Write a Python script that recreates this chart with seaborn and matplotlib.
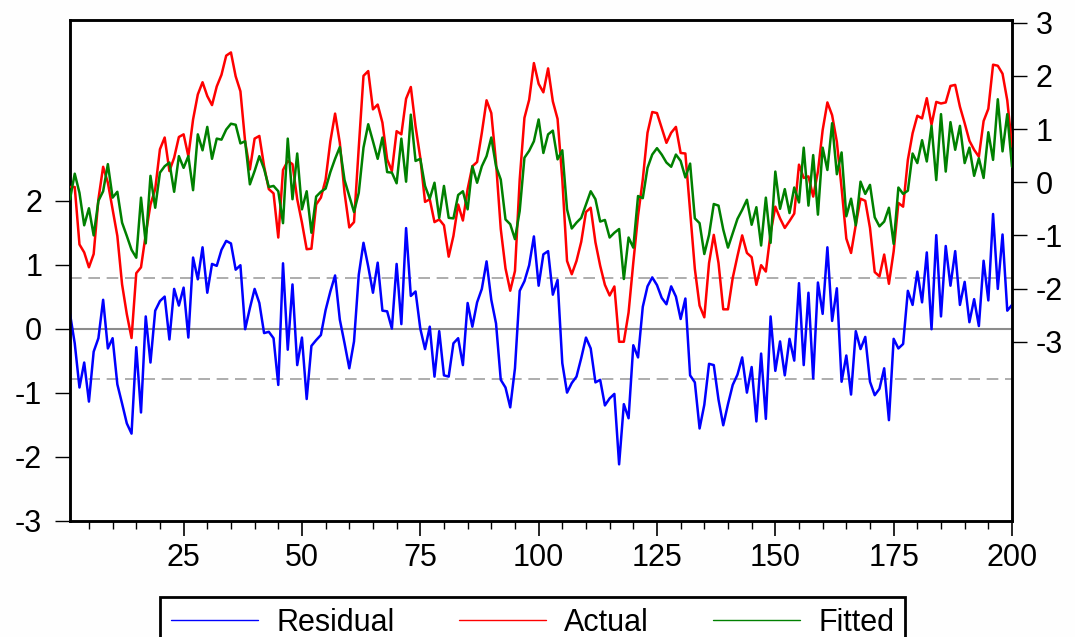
import numpy as np
import pandas as pd
import matplotlib
matplotlib.use("Agg")
import matplotlib.pyplot as plt
from matplotlib.lines import Line2D
from matplotlib.ticker import MultipleLocator, FixedLocator
import seaborn as sns

# ---------------- data ----------------
residual = [
    0.23, -0.23, -0.92, -0.53, -1.14, -0.36, -0.15, 0.45, -0.31, -0.15, -0.87, -1.17, -1.48, -1.64, -0.29,
    -1.31, 0.19, -0.53, 0.28, 0.43, 0.50, -0.17, 0.62, 0.36, 0.64, -0.14, 1.11, 0.77, 1.27, 0.56, 1.01, 0.98, 1.23,
    1.37, 1.33, 0.92, 0.99, -0.01, 0.32, 0.62, 0.40, -0.07, -0.05, -0.15, -0.88, 1.02, -0.33, 0.69, -0.57, -0.14,
    -1.10, -0.27, -0.18, -0.10, 0.29, 0.58, 0.83, 0.14, -0.23, -0.62, -0.20, 0.84, 1.34, 0.97, 0.56, 1.03, 0.28,
    0.27, 0.00, 1.01, 0.07, 1.57, 0.51, 0.58, 0.00, -0.32, 0.03, -0.75, -0.04, -0.73, -0.75, -0.23, -0.15, -0.57,
    0.40, 0.03, 0.41, 0.62, 1.05, 0.45, 0.08, -0.80, -0.92, -1.23, -0.62, 0.59, 0.74, 0.99, 1.44, 0.67, 1.16,
    1.21, 0.53, 0.76, -0.54, -1.00, -0.85, -0.75, -0.46, -0.14, -0.31, -0.84, -0.80, -1.20, -1.09, -1.02, -2.12,
    -1.18, -1.40, -0.26, -0.45, 0.34, 0.66, 0.80, 0.68, 0.48, 0.38, 0.66, 0.50, 0.15, 0.47, -0.73, -0.84, -1.56, -1.19,
    -0.55, -0.57, -1.11, -1.51, -1.18, -0.88, -0.72, -0.45, -1.00, -0.60, -1.45, -0.39, -1.41, 0.19, -0.66, -0.20,
    -0.73, -0.16, -0.50, 0.71, -0.57, 0.56, -0.78, 0.72, 0.23, 1.27, 0.12, 0.63, -0.83, -0.42, -1.03, -0.04, -0.32, -0.13,
    -0.83, -1.04, -0.94, -0.62, -1.43, -0.16, -0.31, -0.24, 0.59, 0.37, 0.89, 0.41, 1.19, -0.01, 1.46, 0.19,
    1.29, 0.67, 1.21, 0.37, 0.73, 0.10, 0.46, 0.04, 1.06, 0.44, 1.79, 0.62, 1.47, 0.28, 0.37,
]

actual = [
    -0.09, -0.09, -1.17, -1.32, -1.60, -1.35, -0.32, 0.29, -0.01, -0.51, -1.01, -1.92, -2.48, -2.93, -1.71,
    -1.60, -0.98, -0.42, -0.13, 0.62, 0.84, 0.21, 0.46, 0.85, 0.90, 0.49, 1.18, 1.65, 1.88, 1.62, 1.45, 1.80, 2.02,
    2.38, 2.44, 1.99, 1.71, 0.76, 0.24, 0.82, 0.87, 0.30, -0.13, -0.21, -1.04, 0.23, 0.40, 0.34, -0.32, -0.76,
    -1.26, -1.25, -0.42, -0.29, 0.05, 0.77, 1.29, 0.74, -0.20, -0.85, -0.75, 0.65, 2.00, 2.09, 1.37, 1.46, 1.12,
    0.43, 0.21, 0.96, 0.90, 1.57, 1.79, 1.05, 0.46, -0.37, -0.32, -0.75, -0.70, -0.81, -1.40, -1.01, -0.42, -0.72,
    -0.13, 0.30, 0.38, 0.93, 1.54, 1.30, 0.37, -0.88, -1.62, -2.04, -1.67, 0.05, 1.21, 1.55, 2.24, 1.85, 1.69,
    2.14, 1.52, 1.19, 0.05, -1.48, -1.73, -1.48, -1.12, -0.56, -0.48, -1.13, -1.57, -1.93, -2.13, -1.96, -3.00,
    -3.00, -2.45, -1.51, -0.63, 0.05, 0.93, 1.32, 1.30, 1.02, 0.74, 0.93, 1.04, 0.55, 0.54, -0.54, -1.63, -2.32, -2.54,
    -1.52, -0.99, -1.52, -2.39, -2.39, -1.80, -1.39, -1.00, -1.33, -1.41, -1.93, -1.56, -1.68, -0.96, -0.46, -0.68,
    -0.86, -0.73, -0.59, 0.33, 0.08, 0.11, -0.27, 0.20, 0.98, 1.50, 1.26, 0.76, -0.11, -1.06, -1.33, -0.80, -0.31, -0.35,
    -0.86, -1.69, -1.77, -1.36, -1.91, -1.30, -0.39, -0.46, 0.42, 0.92, 1.25, 1.20, 1.58, 1.08, 1.51, 1.48,
    1.50, 1.81, 1.83, 1.42, 1.11, 0.78, 0.61, 0.48, 1.15, 1.38, 2.21, 2.19, 2.04, 1.54, 0.67,
]

fitted = [
    -0.32, 0.16, -0.20, -0.81, -0.49, -1.00, -0.35, -0.17, 0.34, -0.29, -0.18, -0.76, -1.01, -1.27, -1.42,
    -0.29, -1.15, 0.12, -0.48, 0.18, 0.30, 0.37, -0.18, 0.49, 0.27, 0.49, -0.15, 0.90, 0.60, 1.04, 0.44, 0.82, 0.80,
    0.99, 1.10, 1.08, 0.73, 0.77, -0.04, 0.21, 0.49, 0.25, -0.09, -0.07, -0.17, -0.77, 0.82, -0.32, 0.54, -0.51,
    -0.17, -0.95, -0.27, -0.18, -0.12, 0.19, 0.44, 0.66, 0.04, -0.26, -0.56, -0.20, 0.65, 1.09, 0.77, 0.44, 0.84,
    0.19, 0.18, -0.02, 0.82, 0.01, 1.27, 0.40, 0.44, -0.07, -0.31, -0.01, -0.67, -0.07, -0.67, -0.68, -0.24, -0.17,
    -0.51, 0.30, -0.01, 0.30, 0.49, 0.84, 0.30, 0.05, -0.70, -0.79, -1.07, -0.54, 0.46, 0.59, 0.77, 1.18, 0.55,
    0.90, 0.97, 0.43, 0.60, -0.51, -0.87, -0.76, -0.67, -0.42, -0.17, -0.32, -0.74, -0.71, -1.04, -0.95, -0.88,
    -1.82, -1.04, -1.23, -0.26, -0.30, 0.27, 0.52, 0.64, 0.52, 0.37, 0.29, 0.52, 0.40, 0.09, 0.35, -0.68, -0.77, -1.35,
    -0.99, -0.41, -0.44, -0.89, -1.23, -0.96, -0.69, -0.52, -0.33, -0.80, -0.47, -1.19, -0.29, -1.14, 0.20, -0.50,
    -0.13, -0.58, -0.10, -0.38, 0.65, -0.44, 0.51, -0.61, 0.65, 0.23, 1.11, 0.15, 0.56, -0.64, -0.31, -0.81, 0.01, -0.22,
    -0.05, -0.66, -0.83, -0.74, -0.48, -1.16, -0.10, -0.22, -0.16, 0.54, 0.36, 0.79, 0.39, 1.06, 0.04, 1.28,
    0.20, 1.13, 0.61, 1.06, 0.36, 0.65, 0.12, 0.45, 0.08, 0.94, 0.42, 1.56, 0.58, 1.28, 0.29,
]

obs = list(range(1, len(residual) + 1))
resid_se = 0.787                      # +/- 1 S.E. band of the residual
series_labels = ["Residual", "Actual", "Fitted"]
x_major_ticks = [25, 50, 75, 100, 125, 150, 175, 200]
left_ticks = [-3, -2, -1, 0, 1, 2]
right_ticks = [-3, -2, -1, 0, 1, 2, 3]

df = pd.DataFrame({"obs": obs, "Residual": residual, "Actual": actual, "Fitted": fitted})

# ---------------- style ----------------
sns.set_style("white")
plt.rcParams["font.family"] = ["Liberation Sans", "DejaVu Sans"]
plt.rcParams["text.color"] = "black"
FS = 22

BLUE, RED, GREEN = "#0000ff", "#ff0000", "#008000"

fig = plt.figure(figsize=(10.75, 6.37), dpi=100, facecolor="#fefefe")
W, H = 1075, 637
ax1 = fig.add_axes([70 / W, 1 - 521 / H, (1012 - 70) / W, (521 - 20) / H])
ax1.set_facecolor("white")
ax2 = ax1.twinx()

# reference lines for residuals
ax1.axhline(0, color="#8c8c8c", lw=1.5, zorder=1)
for s in (resid_se, -resid_se):
    ax1.axhline(s, color="#a0a0a0", lw=1.2, ls=(0, (7, 4)), zorder=1)

sns.lineplot(data=df, x="obs", y="Residual", ax=ax1, color=BLUE, lw=1.8, zorder=3)
sns.lineplot(data=df, x="obs", y="Actual", ax=ax2, color=RED, lw=1.8, zorder=3)
sns.lineplot(data=df, x="obs", y="Fitted", ax=ax2, color=GREEN, lw=1.8, zorder=4)

ax1.set_xlim(1, 200)
ax1.set_ylim(-3.005, 4.82)
ax2.set_ylim(-6.37, 3.05)

for ax in (ax1, ax2):
    ax.set_xlabel("")
    ax.set_ylabel("")
    for sp in ax.spines.values():
        sp.set_color("black")
        sp.set_linewidth(1.8)

ax1.xaxis.set_major_locator(FixedLocator(x_major_ticks))
ax1.xaxis.set_minor_locator(MultipleLocator(5))
ax1.set_yticks(left_ticks)
ax1.set_yticklabels([str(t) for t in left_ticks])
ax2.set_yticks(right_ticks)
ax2.set_yticklabels([str(t) for t in right_ticks])

ax1.tick_params(axis="x", which="major", bottom=True, length=11, width=1.2, colors="black",
                labelsize=FS, pad=5, direction="out")
ax1.tick_params(axis="x", which="minor", bottom=True, length=6, width=1.0, colors="black", direction="out")
ax1.tick_params(axis="y", left=True, right=False, length=11, width=1.0, colors="black",
                labelsize=FS, pad=9, direction="out")
ax2.tick_params(axis="y", right=True, left=False, length=11, width=1.0, colors="black",
                labelsize=FS, pad=6, direction="out")

handles = [Line2D([], [], color=c, lw=1.0) for c in (BLUE, RED, GREEN)]
leg = fig.legend(handles, series_labels, ncol=3, loc="upper left",
                 bbox_to_anchor=(160 / W, 1 - 597 / H), bbox_transform=fig.transFigure,
                 frameon=True, fancybox=False, shadow=False, framealpha=1, edgecolor="black",
                 fontsize=FS, borderpad=0.35, borderaxespad=0, handlelength=2.85,
                 handletextpad=0.6, columnspacing=2.1)
leg.get_frame().set_linewidth(2.0)
leg.get_frame().set_facecolor("white")
for t in leg.get_texts():
    t.set_color("black")

fig.savefig("out.png", dpi=100, facecolor=fig.get_facecolor())
